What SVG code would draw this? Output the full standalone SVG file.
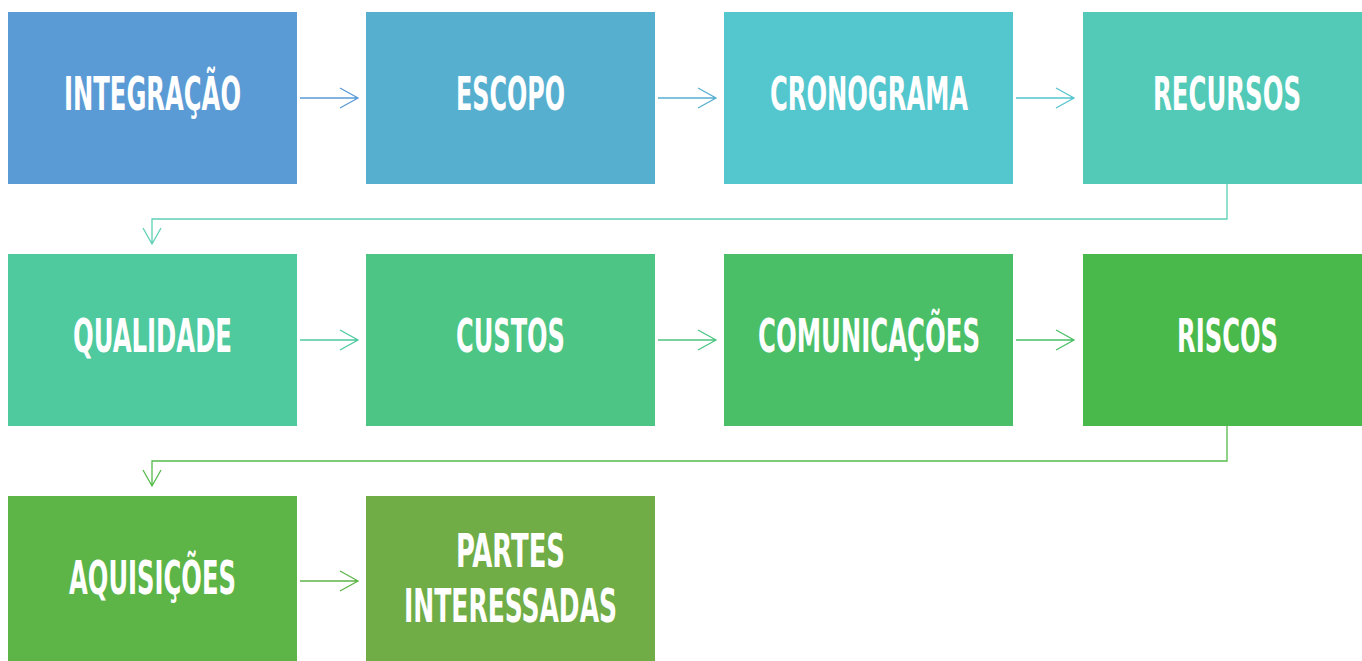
<svg xmlns="http://www.w3.org/2000/svg" width="1362" height="661" viewBox="0 0 1362 661">
<style>
.lbl{font-family:"Liberation Sans Narrow","DejaVu Sans Condensed","Liberation Sans",sans-serif;font-weight:bold;font-size:47px;fill:#ffffff;text-anchor:middle}
.c{fill:none;stroke-width:1.3}
</style>
<rect width="1362" height="661" fill="#ffffff"/>
<g id="connectors">
<g class="c" stroke="#5B9BD5"><path d="M300 98H358M340 88L358 98L340 108"/></g>
<g class="c" stroke="#57AFD0"><path d="M658 98H716M698 88L716 98L698 108"/></g>
<g class="c" stroke="#54C4CE"><path d="M1016 98H1074M1056 88L1074 98L1056 108"/></g>
<g class="c" stroke="#5ED0B4"><path d="M1227 184V219H152V244M143 228L152 244L161 228"/></g>
<g class="c" stroke="#4FC99E"><path d="M300 340H358M340 330L358 340L340 350"/></g>
<g class="c" stroke="#4DC583"><path d="M658 340H716M698 330L716 340L698 350"/></g>
<g class="c" stroke="#4ABF67"><path d="M1016 340H1074M1056 330L1074 340L1056 350"/></g>
<g class="c" stroke="#55BB4C"><path d="M1227 426V461H152V486M143 470L152 486L161 470"/></g>
<g class="c" stroke="#5DB548"><path d="M300 581H358M340 571L358 581L340 591"/></g>
</g>
<g id="n1"><rect x="8" y="12" width="289" height="172" fill="#5B9BD5"/><text class="lbl" x="152.5" y="110" textLength="177" lengthAdjust="spacingAndGlyphs">INTEGRAÇÃO</text></g>
<g id="n2"><rect x="366" y="12" width="289" height="172" fill="#57AFD0"/><text class="lbl" x="510.5" y="110" textLength="109" lengthAdjust="spacingAndGlyphs">ESCOPO</text></g>
<g id="n3"><rect x="724" y="12" width="289" height="172" fill="#54C6CE"/><text class="lbl" x="869" y="110" textLength="198" lengthAdjust="spacingAndGlyphs">CRONOGRAMA</text></g>
<g id="n4"><rect x="1083" y="12" width="279" height="172" fill="#53CAB7"/><text class="lbl" x="1227" y="110" textLength="148" lengthAdjust="spacingAndGlyphs">RECURSOS</text></g>
<g id="n5"><rect x="8" y="254" width="289" height="172" fill="#4FC99E"/><text class="lbl" x="152.5" y="352" textLength="159" lengthAdjust="spacingAndGlyphs">QUALIDADE</text></g>
<g id="n6"><rect x="366" y="254" width="289" height="172" fill="#4DC584"/><text class="lbl" x="510.5" y="352" textLength="109" lengthAdjust="spacingAndGlyphs">CUSTOS</text></g>
<g id="n7"><rect x="724" y="254" width="289" height="172" fill="#4ABF67"/><text class="lbl" x="869" y="352" textLength="222" lengthAdjust="spacingAndGlyphs">COMUNICAÇÕES</text></g>
<g id="n8"><rect x="1083" y="254" width="279" height="172" fill="#48B94A"/><text class="lbl" x="1227.5" y="352" textLength="101" lengthAdjust="spacingAndGlyphs">RISCOS</text></g>
<g id="n9"><rect x="8" y="496" width="289" height="165" fill="#5DB548"/><text class="lbl" x="152.5" y="594" textLength="167" lengthAdjust="spacingAndGlyphs">AQUISIÇÕES</text></g>
<g id="n10"><rect x="366" y="496" width="289" height="165" fill="#70AD47"/><text class="lbl" x="510.5" y="567" textLength="109" lengthAdjust="spacingAndGlyphs">PARTES</text><text class="lbl" x="510.5" y="622" textLength="213" lengthAdjust="spacingAndGlyphs">INTERESSADAS</text></g>
</svg>
